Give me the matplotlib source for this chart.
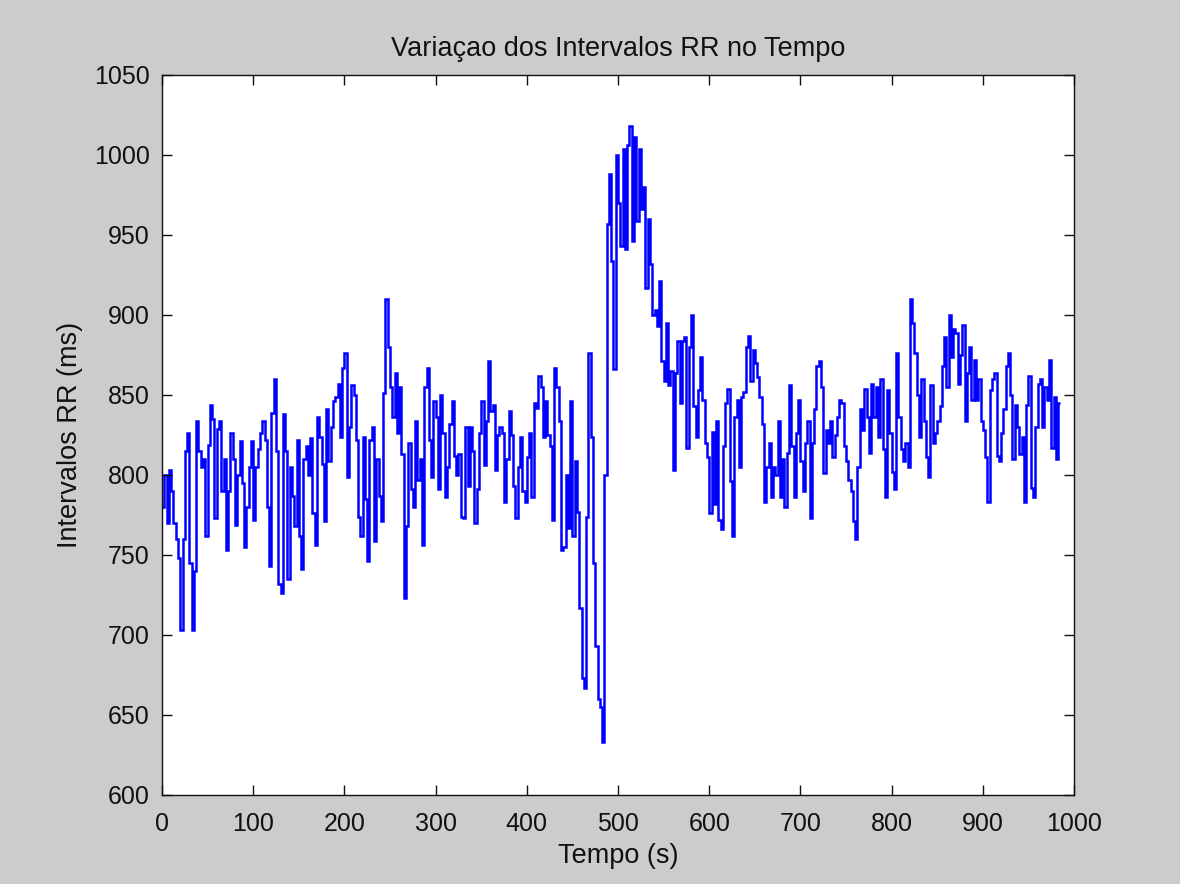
import numpy as np
import matplotlib
matplotlib.use("Agg")
import matplotlib.pyplot as plt

# RR intervals (ms), one value every 2.5 s, read block by block (10 s per row)
rr_000 = [780, 800, 770, 803,  790, 770, 760, 748,  703, 760, 815, 826,
          745, 703, 740, 834,  815, 805, 810, 762,  819, 844, 835, 773,
          829, 834, 790, 810,  753, 790, 826, 810,  769, 800, 821, 795,
          755, 780, 805, 821]
rr_100 = [772, 805, 816, 826,  834, 822, 780, 743,  839, 860, 815, 732,
          726, 838, 815, 735,  805, 787, 768, 822,  762, 741, 810, 818,
          800, 823, 776, 756,  836, 824, 807, 771,  841, 809, 830, 846,
          849, 857, 824, 867]
rr_200 = [876, 799, 830, 856,  850, 822, 774, 762,  824, 785, 746, 822,
          830, 759, 810, 787,  771, 851, 910, 880,  855, 836, 864, 826,
          855, 813, 723, 768,  820, 791, 780, 834,  797, 810, 756, 855,
          867, 822, 799, 846]
rr_300 = [836, 791, 850, 826,  786, 805, 832, 846,  812, 800, 813, 774,
          773, 830, 793, 830,  815, 770, 791, 826,  846, 806, 834, 871,
          840, 844, 803, 825,  830, 826, 783, 810,  840, 825, 793, 773,
          805, 824, 790, 783]
rr_400 = [811, 826, 786, 845,  842, 862, 855, 824,  846, 825, 818, 772,
          867, 855, 834, 753,  755, 800, 767, 846,  762, 809, 777, 717,
          673, 667, 774, 876,  824, 745, 693, 660,  655, 633, 800, 957,
          988, 934, 866, 1000]
rr_500 = [970, 943, 1004, 941,  1006, 1018, 946, 1011,  959, 1004, 966, 980,
          917, 960, 932, 900,  903, 893, 921, 871,  859, 895, 856, 865,
          803, 864, 884, 845,  884, 886, 817, 880,  900, 843, 824, 853,
          874, 847, 820, 811]
rr_600 = [776, 827, 782, 834,  772, 766, 818, 845,  854, 796, 762, 836,
          847, 805, 849, 852,  880, 887, 859, 878,  870, 861, 849, 832,
          783, 805, 820, 786,  805, 800, 834, 786,  810, 780, 814, 856,
          818, 786, 826, 847]
rr_700 = [809, 790, 820, 834,  773, 820, 841, 868,  871, 855, 801, 828,
          820, 834, 811, 825,  836, 847, 845, 818,  809, 797, 790, 771,
          760, 805, 841, 828,  854, 836, 814, 857,  836, 855, 824, 860,
          816, 786, 853, 826]
rr_800 = [802, 791, 876, 836,  816, 809, 820, 805,  910, 895, 876, 850,
          824, 860, 834, 811,  799, 856, 820, 826,  834, 843, 868, 886,
          855, 900, 874, 891,  889, 857, 875, 894,  834, 864, 880, 847,
          872, 847, 860, 834]
rr_900 = [828, 811, 783, 853,  860, 864, 812, 809,  826, 841, 868, 876,
          850, 810, 844, 830,  813, 824, 783, 844,  862, 792, 786, 830,
          857, 860, 830, 855,  847, 872, 817, 849,  810, 845]

step_s = 2.5
x_ticks = [0, 100, 200, 300, 400, 500, 600, 700, 800, 900, 1000]
y_ticks = [600, 650, 700, 750, 800, 850, 900, 950, 1000, 1050]

rr = np.array(rr_000 + rr_100 + rr_200 + rr_300 + rr_400 +
              rr_500 + rr_600 + rr_700 + rr_800 + rr_900, dtype=float)
edges = np.arange(len(rr) + 1) * step_s

plt.rcParams["font.family"] = ["Liberation Sans", "DejaVu Sans"]
ink = "#111111"

fig = plt.figure(figsize=(11.8, 8.84), dpi=100)
fig.patch.set_facecolor("#cccccc")
ax = fig.add_axes([0.1373, 0.1007, 0.7729, 0.8145])
ax.set_facecolor("white")

ax.stairs(rr, edges, baseline=None, color="#0000ff", linewidth=1.8)

ax.set_xlim(0, 1000)
ax.set_ylim(600, 1050)
ax.set_xticks(x_ticks)
ax.set_yticks(y_ticks)
ax.tick_params(direction="in", length=7, width=1, top=True, right=True,
               labelsize=18, colors=ink)
ax.tick_params(axis="x", pad=12)
ax.tick_params(axis="y", pad=9)
for sp in ax.spines.values():
    sp.set_linewidth(1)
    sp.set_color(ink)

ax.set_title("Variaçao dos Intervalos RR no Tempo", fontsize=19.5, pad=14,
             color=ink)
ax.set_xlabel("Tempo (s)", fontsize=19.5, labelpad=5, color=ink)
ax.set_ylabel("Intervalos RR (ms)", fontsize=19.5, labelpad=8, color=ink)

fig.savefig("out.png", dpi=100, facecolor=fig.get_facecolor())
